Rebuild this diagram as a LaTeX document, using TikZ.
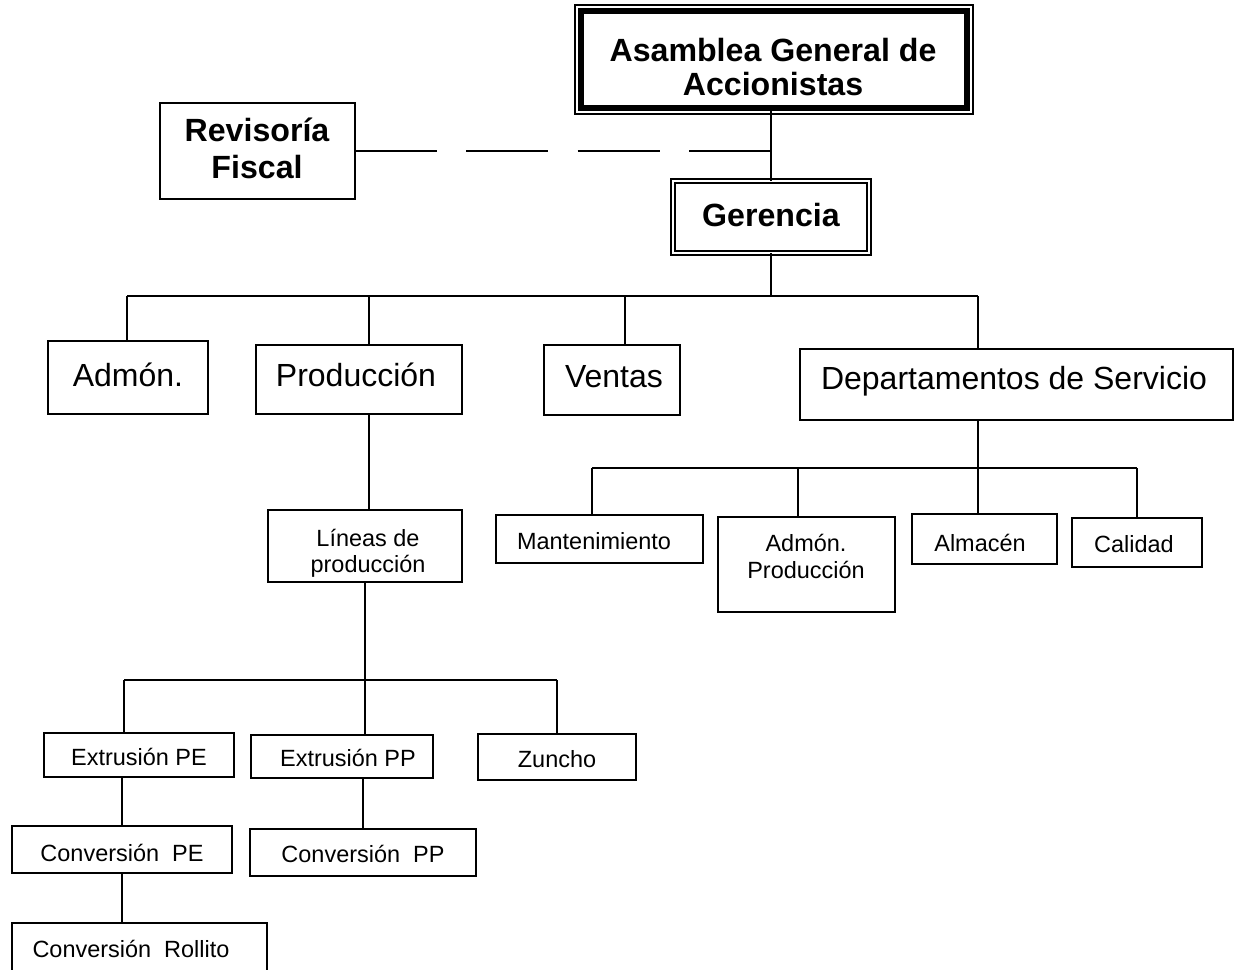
\documentclass[tikz,border=0pt]{standalone}
\usepackage{fontspec}
\setmainfont{Liberation Sans}
\usetikzlibrary{fit,calc}
\begin{document}
\begin{tikzpicture}[x=0.75pt,y=-0.75pt,
  box/.style={draw, rectangle, inner sep=0pt, outer sep=0pt, line width=1.5pt},
  big/.style={anchor=base, inner sep=0pt, font=\fontsize{24.1}{28}\selectfont\bfseries},
  mid/.style={anchor=base, inner sep=0pt, font=\fontsize{24}{28}\selectfont},
  small/.style={anchor=base, inner sep=0pt, font=\fontsize{17.6}{21}\selectfont},
  link/.style={line width=1.5pt},
  dashlink/.style={line width=1.5pt, dash pattern=on 61.5pt off 22pt}]
\useasboundingbox (0,0) rectangle (1235,970);
\fill[white] (0,0) rectangle (1235,970);
\clip (0,0) rectangle (1235,970);

% ---- boxes ----
\node[box, line width=3.8pt, fit={(581,11) (967,108)}] (asm) {};
\draw[line width=1.5pt] ($(asm.north west)+(-6,-6)$) rectangle ($(asm.south east)+(6,6)$);
\node[box, fit={(160,103) (355,199)}] (rev) {};
\node[box, line width=1.5pt, double, double distance=2.2pt, fit={(673,181) (869,253)}] (ger) {};

\node[box, fit={(48,341) (208,414)}] (admon) {};
\node[box, fit={(256,345) (462,414)}] (prod) {};
\node[box, fit={(544,345) (680,415)}] (ventas) {};
\node[box, fit={(800,349) (1233,420)}] (deptos) {};

\node[box, fit={(496,515) (703,563)}] (mant) {};
\node[box, fit={(718,517) (895,612)}] (admprod) {};
\node[box, fit={(912,514) (1057,564)}] (alm) {};
\node[box, fit={(1072,518) (1202,567)}] (cal) {};

\node[box, fit={(268,510) (462,582)}] (lineas) {};
\node[box, fit={(44,733) (234,777)}] (extpe) {};
\node[box, fit={(251,735) (433,778)}] (extpp) {};
\node[box, fit={(478,734) (636,780)}] (zun) {};
\node[box, fit={(12,826) (232,873)}] (convpe) {};
\node[box, fit={(250,829) (476,876)}] (convpp) {};
\node[box, fit={(12,923) (267,990)}] (rollito) {};

% ---- texts ----
\node[big] (tasm1) at (773,62) {Asamblea General de};
\node[big] (tasm2) at (773,96) {Accionistas};
\node[big] (trev1) at (257,142) {Revisoría};
\node[big] (trev2) at (257,179) {Fiscal};
\node[big] (tger) at (771,227) {Gerencia};

\node[mid] (tadmon) at (128,386) {Admón.};
\node[mid] (tprod) at (356,386) {Producción};
\node[mid] (tventas) at (614,387) {Ventas};
\node[mid] (tdeptos) at (1014,389) {Departamentos de Servicio};

\node[small] (tmant) at (594,549) {Mantenimiento};
\node[small] (tadmprod1) at (806,551) {Admón.};
\node[small] (tadmprod2) at (806,578) {Producción};
\node[small] (talm) at (980,551) {Almacén};
\node[small] (tcal) at (1134,552) {Calidad};

\node[small] (tlin1) at (368,546) {Líneas de};
\node[small] (tlin2) at (368,572) {producción};
\node[small] (textpe) at (139,765) {Extrusión PE};
\node[small] (textpp) at (348,766) {Extrusión PP};
\node[small] (tzun) at (557,767) {Zuncho};
\node[small] (tconvpe) at (122,861) {Conversión\ \ PE};
\node[small] (tconvpp) at (363,862) {Conversión\ \ PP};
\node[small] (trollito) at (131,957) {Conversión\ \ Rollito};

% ---- connectors ----
\draw[link] (ger.north) -- (ger.north |- asm.south);
\draw[dashlink] (rev.east) -- (rev.east -| ger.north);

\coordinate (busL) at (127,296);
\coordinate (busP) at (369,296);
\coordinate (busV) at (625,296);
\coordinate (busR) at (978,296);
\draw[link] (busL) -- (busR);
\draw[link] (ger.south) -- (ger.south |- busL);
\draw[link] (busL) -- (busL |- admon.north);
\draw[link] (busP) -- (busP |- prod.north);
\draw[link] (busV) -- (busV |- ventas.north);
\draw[link] (busR) -- (busR |- deptos.north);

\coordinate (sbL) at (592,468);
\coordinate (sbA) at (798,468);
\coordinate (sbM) at (978,468);
\coordinate (sbR) at (1137,468);
\draw[link] (sbL) -- (sbR);
\draw[link] (sbM |- deptos.south) -- (sbM);
\draw[link] (sbL) -- (sbL |- mant.north);
\draw[link] (sbA) -- (sbA |- admprod.north);
\draw[link] (sbM) -- (sbM |- alm.north);
\draw[link] (sbR) -- (sbR |- cal.north);

\draw[link] (busP |- prod.south) -- (busP |- lineas.north);

\coordinate (lbL) at (124,680);
\coordinate (lbM) at (365,680);
\coordinate (lbR) at (557,680);
\draw[link] (lbL) -- (lbR);
\draw[link] (lbM |- lineas.south) -- (lbM);
\draw[link] (lbL) -- (lbL |- extpe.north);
\draw[link] (lbM) -- (lbM |- extpp.north);
\draw[link] (lbR) -- (lbR |- zun.north);

\draw[link] (convpe.north) -- (convpe.north |- extpe.south);
\draw[link] (convpp.north) -- (convpp.north |- extpp.south);
\draw[link] (convpe.south) -- (convpe.south |- rollito.north);
\end{tikzpicture}
\end{document}
